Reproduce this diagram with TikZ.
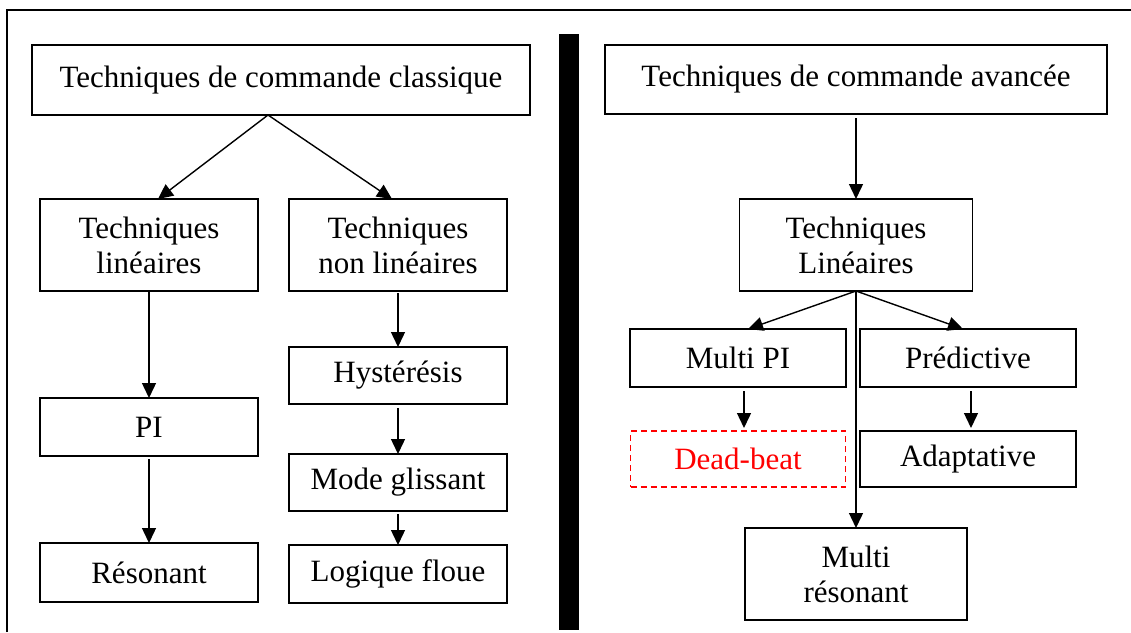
\documentclass[tikz,border=0pt]{standalone}
\usepackage{fontspec}
\setmainfont{Liberation Serif}
\usepackage{xcolor}
\usepackage{tikz}
\usetikzlibrary{positioning,arrows.meta}

\begin{document}
\begin{tikzpicture}[
  x=1pt, y=1pt,
  box/.style  ={draw, line width=1.4pt, outer sep=0pt, align=center,
                inner sep=2pt, font=\fontsize{31}{35}\selectfont},
  tbox/.style ={box, minimum width=218pt, minimum height=57pt},
  dbox/.style ={box, minimum width=218pt, minimum height=92pt},
  rbox/.style ={box, minimum width=216pt, minimum height=58pt},
  deadbox/.style={box, draw=red, text=red, dash pattern=on 6pt off 4pt},
  arr/.style  ={-{Triangle[length=15pt,width=14pt]}, line width=1.4pt}
]
\useasboundingbox (0,0) rectangle (1131,-632);
\draw[line width=1.4pt] (7,-632) -- (7,-10) -- (1131,-10);
\fill (559,-34) rectangle (579,-630);

% left: classical control
\node[box, minimum width=498pt, minimum height=70pt] (cls) at (281,-80) {Techniques de commande classique};
\node[dbox, below right=84pt and 8pt of cls.south west] (lin) {Techniques\\ linéaires};
\node[dbox, right=31pt of lin] (nlin) {Techniques\\ non linéaires};
\node[tbox, minimum height=58pt, below=107pt of lin] (pi) {PI};
\node[tbox, minimum height=59pt, below=87pt of pi] (reso) {Résonant};
\node[tbox, below=56pt of nlin] (hyst) {Hystérésis};
\node[tbox, below=50pt of hyst] (glis) {Mode glissant};
\node[tbox, minimum height=58pt, below=34pt of glis] (flou) {Logique floue};
\coordinate (clsapex) at ([xshift=-13pt]cls.south);

\draw[arr] (clsapex) -- ([xshift=9pt]lin.north);
\draw[arr] (clsapex) -- ([xshift=-6pt]nlin.north);
\draw[arr] (lin) -- (pi);
\draw[arr, shorten <=3pt] (pi) -- (reso);
\draw[arr, shorten <=2pt] (nlin) -- (hyst);
\draw[arr, shorten <=4pt] (hyst) -- (glis);
\draw[arr, shorten <=3pt] (glis) -- (flou);

% right: advanced control
\node[box, minimum width=502pt, minimum height=69pt] (adv) at (856,-79.5) {Techniques de commande avancée};
\node[box, minimum width=233pt, minimum height=92pt, below=85pt of adv] (rlin) {Techniques\\ Linéaires};
\node[rbox, below left=38pt and 10pt of rlin.south] (mpi) {Multi PI};
\node[rbox, below right=38pt and 4pt of rlin.south] (pred) {Prédictive};
\node[deadbox, minimum width=215pt, minimum height=56pt, below=44pt of mpi] (dead) {Dead-beat};
\node[rbox, minimum height=56pt, below=44pt of pred] (adap) {Adaptative};
\node[box, minimum width=222pt, minimum height=92pt, below=237pt of rlin] (mres) {Multi\\ résonant};

\draw[arr, shorten <=4pt] (adv) -- (rlin);
\draw[arr] (rlin.south) -- ([xshift=10pt]mpi.north);
\draw[arr] (rlin.south) -- ([xshift=-5pt]pred.north);
\draw[arr] (rlin.south) -- (mres.north);
\draw[arr, shorten <=4pt, shorten >=3pt] ([xshift=6pt]mpi.south) -- ([xshift=6pt]dead.north);
\draw[arr, shorten <=4pt, shorten >=3pt] ([xshift=3pt]pred.south) -- ([xshift=3pt]adap.north);
\end{tikzpicture}
\end{document}
